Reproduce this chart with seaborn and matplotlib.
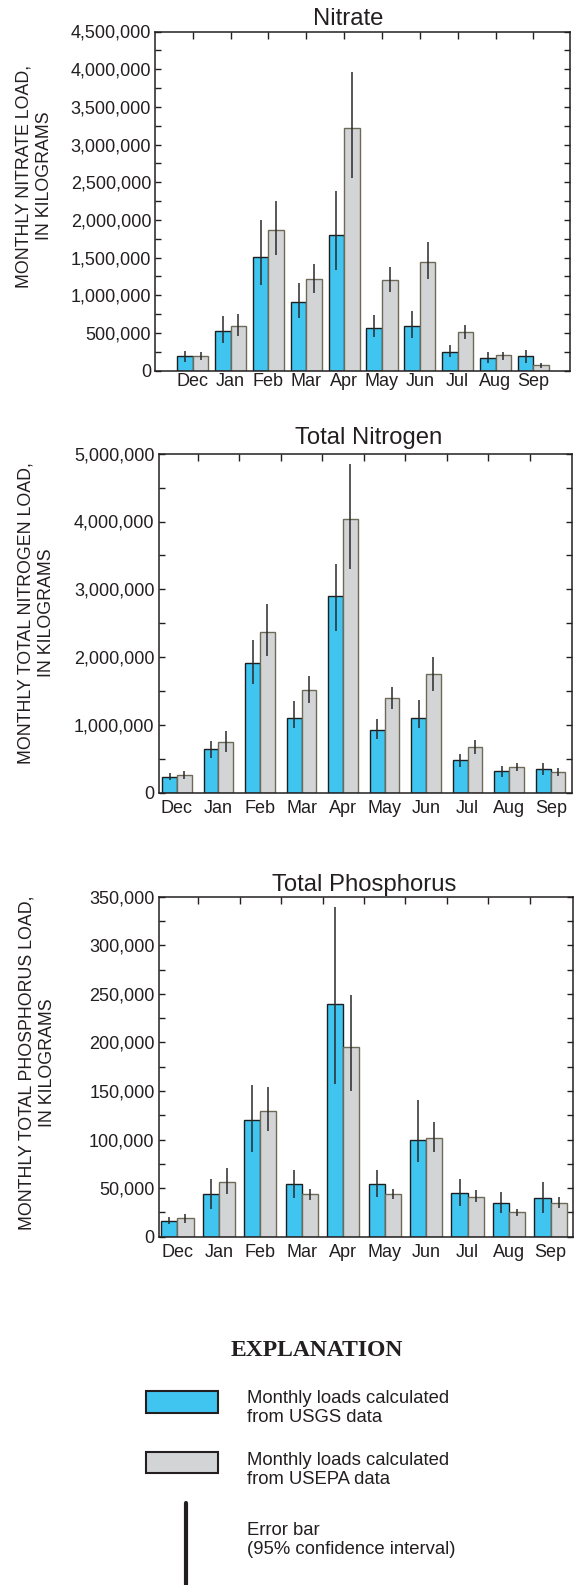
import numpy as np
import pandas as pd
import matplotlib
matplotlib.use('Agg')
import matplotlib.pyplot as plt
import seaborn as sns
from matplotlib.ticker import MultipleLocator, FuncFormatter
from matplotlib.patches import Rectangle
from matplotlib.lines import Line2D

# months on the x axis
months = ['Dec', 'Jan', 'Feb', 'Mar', 'Apr', 'May', 'Jun', 'Jul', 'Aug', 'Sep']

# Nitrate loads (kg) and 95% confidence limits
nitrate_usgs = [190000, 523000, 1506000, 912000, 1802000, 571000, 589000, 248000, 168000, 195000]
nitrate_usgs_lo = [115000, 368000, 1143000, 700000, 1342000, 443000, 434000, 177000, 102000, 102000]
nitrate_usgs_hi = [255000, 722000, 1993000, 1165000, 2383000, 744000, 797000, 345000, 248000, 279000]
nitrate_epa = [200000, 589000, 1869000, 1218000, 3215000, 1200000, 1448000, 509000, 204000, 75000]
nitrate_epa_lo = [146000, 465000, 1541000, 1032000, 2560000, 1045000, 1218000, 421000, 146000, 40000]
nitrate_epa_hi = [248000, 753000, 2250000, 1417000, 3964000, 1377000, 1710000, 611000, 248000, 102000]

# Total nitrogen
nitrogen_usgs = [231000, 648000, 1906000, 1105000, 2908000, 928000, 1105000, 486000, 319000, 344000]
nitrogen_usgs_lo = [182000, 516000, 1596000, 948000, 2392000, 796000, 958000, 378000, 231000, 255000]
nitrogen_usgs_hi = [285000, 761000, 2245000, 1351000, 3369000, 1081000, 1365000, 575000, 393000, 432000]
nitrogen_epa = [255000, 747000, 2372000, 1508000, 4037000, 1390000, 1749000, 673000, 378000, 309000]
nitrogen_epa_lo = [196000, 599000, 2014000, 1316000, 3301000, 1238000, 1498000, 575000, 319000, 246000]
nitrogen_epa_hi = [319000, 909000, 2785000, 1719000, 4853000, 1562000, 1999000, 776000, 442000, 368000]

# Total phosphorus
phos_usgs = [16500, 43600, 120000, 53900, 240000, 53900, 100000, 44600, 34300, 39500]
phos_usgs_lo = [12700, 29000, 87500, 39500, 156800, 41200, 77000, 31900, 24700, 24700]
phos_usgs_hi = [20600, 59000, 156000, 68600, 339800, 68600, 141000, 59400, 46300, 56600]
phos_epa = [18900, 56600, 129700, 43600, 195000, 43600, 102000, 41200, 25700, 35000]
phos_epa_lo = [14400, 43900, 108800, 37700, 150300, 38800, 87500, 36000, 21300, 29900]
phos_epa_hi = [23000, 71000, 153800, 49000, 248800, 49000, 118000, 48000, 29000, 40500]

BLUE = '#40c4f0'
GREY = '#d3d4d6'
EDGE_BLUE = '#1e1e1e'
EDGE_GREY = '#6e6a58'
ERR = '#2a2a2a'
INK = '#231f20'

W, H = 578, 1585

sns.set_style('white')
plt.rcParams['font.family'] = ['Liberation Sans', 'DejaVu Sans']
plt.rcParams['text.color'] = INK


def fx(x):
    return x / W


def fy(y):
    return 1 - y / H


fig = plt.figure(figsize=(W / 100, H / 100), dpi=100)

panels = [
    dict(title='Nitrate', usgs=nitrate_usgs, usgs_lo=nitrate_usgs_lo, usgs_hi=nitrate_usgs_hi,
         epa=nitrate_epa, epa_lo=nitrate_epa_lo, epa_hi=nitrate_epa_hi,
         ylabel='MONTHLY NITRATE LOAD,\nIN KILOGRAMS', ymax=4500000, major=500000,
         box=(155.3, 31.5, 569.7, 370.7), xlim=(-0.99, 9.96), width=0.82, mid_ticks=False,
         title_xy=(348, 19), ylab_xy=(34, 176)),
    dict(title='Total Nitrogen', usgs=nitrogen_usgs, usgs_lo=nitrogen_usgs_lo, usgs_hi=nitrogen_usgs_hi,
         epa=nitrogen_epa, epa_lo=nitrogen_epa_lo, epa_hi=nitrogen_epa_hi,
         ylabel='MONTHLY TOTAL NITROGEN LOAD,\nIN KILOGRAMS', ymax=5000000, major=1000000,
         box=(158.7, 453.7, 572.3, 792.7), xlim=(-0.44, 9.52), width=0.71, mid_ticks=True,
         title_xy=(369, 438), ylab_xy=(36, 613)),
    dict(title='Total Phosphorus', usgs=phos_usgs, usgs_lo=phos_usgs_lo, usgs_hi=phos_usgs_hi,
         epa=phos_epa, epa_lo=phos_epa_lo, epa_hi=phos_epa_hi,
         ylabel='MONTHLY TOTAL PHOSPHORUS LOAD,\nIN KILOGRAMS', ymax=350000, major=50000,
         box=(158.7, 896.7, 573.0, 1236.7), xlim=(-0.45, 9.54), width=0.78, mid_ticks=True,
         title_xy=(364, 885), ylab_xy=(37, 1063)),
]

for p in panels:
    x0, y0, x1, y1 = p['box']
    ax = fig.add_axes([fx(x0), fy(y1), (x1 - x0) / W, (y1 - y0) / H])

    df = pd.DataFrame({
        'month': months * 2,
        'source': ['USGS'] * len(months) + ['USEPA'] * len(months),
        'load': p['usgs'] + p['epa'],
    })
    sns.barplot(data=df, x='month', y='load', hue='source', hue_order=['USGS', 'USEPA'],
                palette={'USGS': BLUE, 'USEPA': GREY}, saturation=1, errorbar=None,
                width=p['width'], linewidth=1.0, legend=False, ax=ax)

    lows = [p['usgs_lo'], p['epa_lo']]
    highs = [p['usgs_hi'], p['epa_hi']]
    edges = [EDGE_BLUE, EDGE_GREY]
    for cont, lo, hi, ec in zip(ax.containers, lows, highs, edges):
        for bar, l, h in zip(cont, lo, hi):
            bar.set_edgecolor(ec)
            xc = bar.get_x() + bar.get_width() / 2
            ax.vlines(xc, l, h, color=ERR, lw=1.1, zorder=4)

    ax.set_xlim(*p['xlim'])
    ax.set_ylim(0, p['ymax'])
    ax.set_xlabel('')
    ax.set_ylabel('')

    for s in ax.spines.values():
        s.set_visible(True)
        s.set_color(INK)
        s.set_linewidth(1.1)

    ax.yaxis.set_major_locator(MultipleLocator(p['major']))
    ax.yaxis.set_minor_locator(MultipleLocator(p['major'] / 2))
    ax.yaxis.set_major_formatter(FuncFormatter(lambda v, pos: f'{v:,.0f}'))
    ax.tick_params(axis='y', which='both', direction='in', left=True, right=True,
                   color=INK, width=1.0, labelsize=13, labelcolor=INK, pad=3)
    ax.tick_params(axis='y', which='major', length=4.5)
    ax.tick_params(axis='y', which='minor', length=4)

    ax.set_xticks(range(len(months)))
    ax.set_xticklabels(months)
    if p['mid_ticks']:
        ax.set_xticks(np.arange(0.5, len(months) - 1, 1.0), minor=True)
        ax.tick_params(axis='x', which='major', bottom=False, top=False,
                       labelbottom=True, labelsize=13, labelcolor=INK, pad=2)
        ax.tick_params(axis='x', which='minor', bottom=False, top=True, direction='in',
                       length=5, width=1.0, color=INK)
    else:
        ax.tick_params(axis='x', which='major', bottom=False, top=True, direction='in',
                       length=5, width=1.0, color=INK, labelbottom=True,
                       labelsize=13, labelcolor=INK, pad=2)

    tx, ty = p['title_xy']
    fig.text(fx(tx), fy(ty), p['title'], ha='center', va='center', fontsize=17.2, color=INK)
    lx, ly = p['ylab_xy']
    fig.text(fx(lx), fy(ly), p['ylabel'], ha='center', va='center', rotation=90,
             fontsize=12.8, linespacing=1.3, multialignment='center', color=INK)

# explanation block
fig.text(fx(317), fy(1350), 'EXPLANATION', ha='center', va='center', fontsize=17,
         fontweight='bold', family=['Liberation Serif', 'DejaVu Serif'], color=INK)

fig.add_artist(Rectangle((fx(146), fy(1413)), 72 / W, 22 / H, transform=fig.transFigure,
                         facecolor=BLUE, edgecolor=INK, lw=1.5))
fig.add_artist(Rectangle((fx(146), fy(1473)), 72 / W, 21 / H, transform=fig.transFigure,
                         facecolor=GREY, edgecolor=INK, lw=1.5))
fig.add_artist(Line2D([fx(186), fx(186)], [fy(1503), fy(1585)], transform=fig.transFigure,
                      color=INK, lw=3))

legend_text = ['Monthly loads calculated\nfrom USGS data',
               'Monthly loads calculated\nfrom USEPA data',
               'Error bar\n(95% confidence interval)']
for txt, yc in zip(legend_text, [1408, 1470, 1540]):
    fig.text(fx(247), fy(yc), txt, ha='left', va='center', fontsize=13.3,
             linespacing=1.1, color=INK)

fig.savefig('out.png', dpi=100)
